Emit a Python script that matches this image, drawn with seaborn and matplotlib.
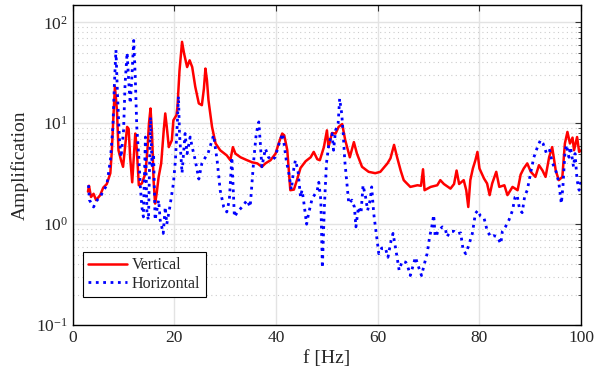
import pandas as pd
import matplotlib
matplotlib.use('Agg')
import matplotlib.pyplot as plt
import matplotlib.ticker as mticker
import seaborn as sns

# Vertical (rood, doorgetrokken)
f_vert = [3.0, 3.2, 3.6, 4.1, 4.6, 5.4, 6.0, 6.7, 7.4, 7.7, 8.0, 8.3, 8.7, 9.0, 9.5, 9.9,
          10.3, 10.7, 11.0, 11.3, 11.7, 12.0, 12.3, 12.6, 13.0, 13.6, 14.3, 14.7, 15.0, 15.3,
          15.6, 15.9, 16.2, 16.5, 16.9, 17.4, 17.9, 18.2, 18.5, 18.9, 19.5, 19.8, 20.4, 20.6,
          21.0, 21.5, 21.9, 22.5, 23.0, 23.5, 24.1, 24.8, 25.4, 25.8, 26.1, 26.4, 26.7, 27.4,
          28.1, 29.0, 30.3, 31.0, 31.5, 32.0, 33.0, 34.3, 35.3, 36.3, 37.2, 37.9, 38.9, 39.9,
          40.5, 41.2, 41.6, 42.2, 42.8, 43.5, 44.1, 44.8, 45.8, 46.8, 47.4, 48.1, 48.6, 49.4,
          50.0, 50.3, 51.0, 51.7, 52.3, 53.0, 53.6, 54.5, 55.3, 55.9, 56.9, 58.2, 59.5, 60.5,
          61.9, 62.5, 63.2, 63.8, 64.5, 65.1, 65.5, 66.4, 67.8, 68.5, 68.9, 69.2, 70.4, 71.7,
          72.3, 73.0, 74.3, 75.0, 75.5, 76.0, 76.9, 77.4, 77.8, 78.2, 78.7, 79.2, 79.6, 80.0,
          80.9, 81.5, 82.0, 82.5, 83.3, 83.9, 84.9, 85.5, 86.5, 87.5, 88.1, 88.7, 89.4, 90.1,
          91.0, 91.7, 92.4, 93.0, 93.7, 94.3, 95.0, 95.6, 96.3, 96.8, 97.3, 97.8, 98.3, 98.6,
          99.2, 99.6, 100.0]
a_vert = [2.1, 2.4, 1.86, 2.0, 1.73, 1.94, 2.3, 2.5, 3.2, 5.4, 11.5, 23, 13.4, 5.4, 4.3, 3.7,
          5.8, 9.2, 8.8, 4.6, 2.6, 4.6, 7.9, 5.6, 2.43, 2.53, 3.2, 5.5, 10, 14,
          8, 2.73, 1.6, 2.0, 2.94, 4.0, 8.5, 12.5, 9.2, 5.8, 6.8, 10.7, 12, 14.5,
          33, 64, 49, 36, 42, 36, 23, 15.7, 15.1, 22, 34.8, 26.7, 16.9, 9.2,
          6.3, 5.4, 4.8, 4.3, 5.8, 5.0, 4.6, 4.3, 4.1, 4.0, 3.7, 4.0, 4.3, 5.0,
          6.3, 7.9, 7.6, 5.4, 2.17, 2.2, 2.73, 3.6, 4.2, 4.6, 5.2, 4.4, 4.3, 5.8,
          8.5, 5.8, 8.0, 7.9, 9.2, 9.8, 6.8, 4.6, 6.5, 5.0, 3.7, 3.3, 3.2, 3.3,
          4.0, 4.5, 6.1, 4.6, 3.4, 2.73, 2.6, 2.34, 2.43, 2.4, 3.5, 2.17, 2.34, 2.43,
          2.73, 2.5, 2.25, 2.5, 3.4, 2.5, 2.73, 2.17, 1.48, 2.73, 3.56, 4.3, 5.2, 3.56,
          2.83, 2.53, 1.94, 2.53, 3.3, 2.34, 2.43, 1.94, 2.34, 2.17, 3.1, 3.56, 4.0, 3.3,
          2.94, 3.84, 3.4, 2.94, 4.6, 5.8, 3.4, 2.73, 2.94, 6.3, 8.2, 6.3, 7.2, 5.4,
          7.3, 5.2, 5.4]

# Horizontal (blauw, gestippeld)
f_hor = [3.1, 3.3, 4.1, 4.8, 5.4, 6.1, 6.7, 7.4, 7.9, 8.2, 8.5, 8.8, 9.2, 9.5, 10.0, 10.3,
         10.7, 11.0, 11.3, 11.6, 12.0, 12.3, 12.6, 13.0, 13.3, 13.6, 13.9, 14.3, 14.6, 14.9,
         15.3, 15.6, 15.9, 16.2, 16.9, 17.2, 17.8, 18.2, 18.5, 19.1, 19.5, 19.8, 20.2, 20.6,
         20.8, 21.0, 21.5, 22.1, 22.5, 23.1, 23.5, 24.1, 24.8, 25.4, 26.1, 26.6, 27.7, 28.4,
         29.0, 29.7, 30.3, 30.8, 31.3, 31.8, 32.4, 33.3, 34.3, 34.9, 35.6, 36.1, 36.6, 36.9,
         37.2, 37.9, 38.5, 39.2, 39.8, 40.8, 41.3, 42.0, 42.5, 43.0, 43.5, 43.8, 44.3, 44.8,
         45.1, 45.4, 46.0, 46.4, 47.1, 47.7, 48.1, 48.4, 48.8, 49.1, 49.5, 49.9, 50.4, 51.0,
         51.3, 51.7, 52.2, 52.5, 52.9, 53.2, 53.5, 54.0, 54.3, 54.9, 55.4, 55.7, 56.2, 56.7,
         57.1, 57.6, 58.0, 58.5, 58.8, 59.2, 59.7, 60.2, 60.8, 61.5, 62.0, 62.6, 63.0, 63.5,
         64.2, 64.8, 65.5, 65.9, 66.4, 66.9, 67.4, 68.0, 68.6, 69.2, 69.7, 70.2, 70.6, 71.0,
         71.3, 72.0, 72.7, 73.3, 73.6, 74.3, 75.0, 75.6, 76.3, 76.8, 77.3, 77.9, 78.6, 79.2,
         79.7, 80.2, 80.9, 81.5, 82.2, 82.8, 83.5, 84.2, 84.5, 85.1, 85.8, 86.5, 87.0, 87.4,
         87.9, 88.4, 88.9, 89.4, 90.1, 90.7, 91.4, 92.0, 92.5, 93.2, 93.8, 94.3, 95.0, 95.6,
         96.1, 96.4, 96.8, 97.1, 97.6, 97.9, 98.5, 98.8, 99.2, 99.6, 100.0]
a_hor = [2.43, 1.73, 1.48, 1.73, 1.86, 2.17, 2.43, 4.3, 9.2, 24.6, 53, 19.7, 6.8, 4.6, 8.5, 24.6,
         50, 26.7, 15.7, 26.7, 66, 28.7, 9.2, 4.6, 2.34, 1.48, 1.18, 7.3, 1.28, 1.1,
         11.5, 3.8, 5.0, 1.1, 1.73, 1.1, 0.81, 1.48, 1.0, 1.48, 2.0, 2.53, 4.3, 10.7,
         18.5, 7.9, 3.2, 7.9, 5.0, 7.3, 5.8, 4.3, 2.8, 4.0, 4.6, 5.0, 7.6, 4.3,
         2.17, 1.48, 1.32, 1.73, 4.6, 1.18, 1.32, 1.48, 1.73, 1.48, 4.3, 7.9, 10.3, 6.3,
         3.7, 5.6, 4.6, 4.3, 4.6, 6.8, 7.9, 4.3, 3.2, 2.2, 3.6, 4.3, 3.4, 1.86,
         2.17, 1.73, 1.0, 1.28, 1.8, 2.0, 2.17, 2.6, 1.73, 0.37, 1.5, 4.0, 6.3, 7.9,
         5.4, 8.5, 9.9, 17.5, 12.5, 7.9, 4.3, 2.34, 1.6, 1.73, 1.48, 0.94, 1.48, 1.28,
         2.43, 1.86, 1.37, 1.73, 2.34, 1.28, 0.81, 0.51, 0.58, 0.58, 0.47, 0.68, 0.81, 0.58,
         0.35, 0.43, 0.42, 0.38, 0.31, 0.38, 0.47, 0.38, 0.31, 0.41, 0.51, 0.75, 0.93, 1.23,
         0.75, 0.87, 0.94, 0.9, 0.75, 0.85, 0.85, 0.8, 0.82, 0.55, 0.51, 0.62, 0.81, 1.28,
         1.37, 1.2, 1.15, 0.87, 0.75, 0.77, 0.75, 0.64, 0.85, 0.94, 1.1, 1.37, 1.86, 1.94,
         1.4, 1.3, 1.9, 2.17, 3.3, 4.6, 5.8, 6.8, 6.3, 5.0, 5.4, 4.1, 3.4, 2.6,
         1.6, 2.3, 5.0, 6.1, 4.6, 5.8, 3.7, 5.0, 2.73, 2.17, 2.73]

df_vert = pd.DataFrame({'f': f_vert, 'A': a_vert})
df_hor = pd.DataFrame({'f': f_hor, 'A': a_hor})

sns.set_style('white')
plt.rcParams['font.family'] = ['Liberation Serif', 'DejaVu Serif']
plt.rcParams['mathtext.fontset'] = 'stix'

fig = plt.figure(figsize=(6.06, 3.75), dpi=100)
ax = fig.add_axes([0.12, 0.133, 0.839, 0.855])

sns.lineplot(data=df_vert, x='f', y='A', ax=ax, color='#ff0000', lw=1.8,
             estimator=None, label='Vertical')
sns.lineplot(data=df_hor, x='f', y='A', ax=ax, color='#0000ff', lw=2.0,
             linestyle=':', estimator=None, label='Horizontal')

ax.set_yscale('log')
ax.set_xlim(0, 100)
ax.set_ylim(0.1, 150)
ax.set_xticks([0, 20, 40, 60, 80, 100])
ax.yaxis.set_minor_locator(mticker.LogLocator(base=10, subs=range(2, 10), numticks=20))
ax.yaxis.set_minor_formatter(mticker.NullFormatter())

# rasters zoals in matlab
ax.grid(True, which='major', color='#e3e3e3', lw=1.0, ls='-')
ax.grid(True, which='minor', axis='y', color='#cccccc', lw=0.8, ls=(0, (1, 3)))
ax.set_axisbelow(True)

ax.tick_params(which='both', direction='in', top=True, right=True, labelsize=12.5, color='#333333')
ax.tick_params(which='major', length=4)
ax.tick_params(which='minor', length=2.5)
for s in ax.spines.values():
    s.set_color('black')
    s.set_linewidth(1.0)

ax.set_xlabel('f [Hz]', fontsize=14, labelpad=3)
ax.set_ylabel('Amplification', fontsize=14, labelpad=5)

leg = ax.legend(loc='lower left', bbox_to_anchor=(0.02, 0.087), borderaxespad=0,
                fontsize=11.5, fancybox=False, framealpha=1, edgecolor='black',
                handlelength=2.4, borderpad=0.35, labelspacing=0.15, handletextpad=0.3)
leg.get_frame().set_linewidth(0.8)

plt.savefig('out.png', dpi=100)
